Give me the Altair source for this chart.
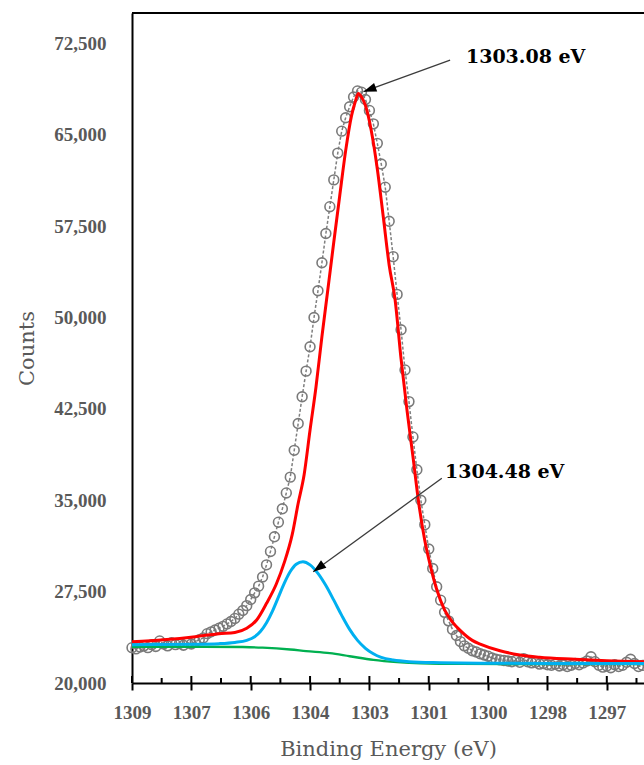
import math
import altair as alt
import pandas as pd

# ---- measured spectrum: counts on a 0.1 eV grid, high -> low binding energy ----
E_START = 1308.8
E_STEP = 0.1
counts = [
    22900, 22800, 22950, 23050, 22900, 23150, 23000, 23450, 23200, 23050,
    23300, 23150, 23250, 23100, 23300, 23200, 23400, 23550, 23700, 24050,
    24200, 24350, 24500, 24650, 24850, 25050, 25300, 25650, 25950, 26350,
    26850, 27400, 27950, 28700, 29700, 30800, 32000, 33200, 34300, 35600,
    36900, 39100, 41300, 43500, 45600, 47600, 50000, 52200, 54500, 56900,
    59100, 61300, 63500, 65300, 66400, 67300, 68100, 68600, 68500, 67900,
    67000, 65900, 64300, 62600, 60700, 57900, 55000, 51900, 49000, 45700,
    43100, 40200, 37500, 35000, 33000, 31000, 29400, 27900, 26800, 25800,
    25100, 24400, 23900, 23400, 23050, 22850, 22650, 22550, 22400, 22300,
    22200, 22050, 21950, 21900, 21850, 21800, 21750, 21850, 21700, 22000,
    21750, 21650, 21700, 21550, 21600, 21500, 21450, 21550, 21400, 21500,
    21350, 21450, 21600, 21500, 21650, 21800, 22150, 21750, 21450, 21300,
    21400, 21250, 21500, 21350, 21450, 21700, 21950, 21600, 21350, 21450,
]
energy = [round(E_START - E_STEP * i, 1) for i in range(len(counts))]

# ---- fitted main component (1303.08 eV) ----
red_e = [1308.8, 1308.0, 1307.2, 1306.6, 1306.2, 1305.9, 1305.65, 1305.4, 1305.15,
         1304.95, 1304.75, 1304.6, 1304.45, 1304.3, 1304.15, 1304.0, 1303.85, 1303.7,
         1303.55, 1303.4, 1303.25, 1303.15, 1303.08, 1303.0, 1302.9, 1302.75, 1302.6,
         1302.45, 1302.3, 1302.15, 1302.0, 1301.85, 1301.7, 1301.55, 1301.4, 1301.25,
         1301.1, 1300.9, 1300.7, 1300.5, 1300.2, 1300.0, 1299.5, 1299.0, 1298.5,
         1297.6, 1296.8, 1295.86]
red_v = [23390, 23550, 23800, 24050, 24150, 24490, 25170, 26540, 28150,
         29900, 32200, 34750, 37100, 40770, 44300, 48430, 52300, 56200,
         60000, 63700, 66600, 67800, 68400, 68100, 67400, 65300, 62200,
         58280, 54300, 51440, 46600, 42400, 38600, 34700, 31700, 29500,
         27700, 26000, 25000, 24300, 23500, 23200, 22650, 22300, 22110,
         21950, 21830, 21750]

# ---- fitted second component (1304.48 eV) ----
blue_e = [1308.8, 1307.2, 1306.6, 1306.2, 1305.9, 1305.7, 1305.55, 1305.4, 1305.25,
          1305.1, 1304.95, 1304.8, 1304.65, 1304.48, 1304.3, 1304.1, 1303.9, 1303.7,
          1303.5, 1303.3, 1303.1, 1302.9, 1302.7, 1302.5, 1302.2, 1301.8, 1301.0,
          1300.0, 1298.0, 1295.86]
blue_v = [23150, 23180, 23230, 23330, 23500, 23800, 24250, 24950, 25900,
          27050, 28200, 29150, 29750, 29960, 29700, 29000, 28000, 26800,
          25550, 24400, 23500, 22850, 22400, 22100, 21880, 21750, 21670,
          21620, 21600, 21600]

# ---- background ----
green_e = [1308.8, 1307.0, 1306.0, 1305.5, 1304.8, 1304.4, 1303.8, 1303.3, 1302.7,
           1302.1, 1301.5, 1300.5, 1298.0, 1295.86]
green_v = [22980, 22980, 22950, 22900, 22750, 22620, 22450, 22200, 21900,
           21720, 21620, 21570, 21560, 21560]

# ---- peak annotations ----
peak_labels = ["1303.08 eV", "1304.48 eV"]
label_e = [1300.36, 1300.89]
label_v = [71400, 37320]
tail_e = [1300.76, 1300.97]
tail_v = [71140, 36800]
tip_e = [1302.95, 1304.22]
tip_v = [68540, 29140]

# ---- axes ----
x_major = [1308.8, 1307.3, 1305.8, 1304.3, 1302.8, 1301.3, 1299.8, 1298.3, 1296.8]
x_minor = [1308.05, 1306.55, 1305.05, 1303.55, 1302.05, 1300.55, 1299.05, 1297.55, 1296.05]
y_ticks = [20000, 27500, 35000, 42500, 50000, 57500, 65000, 72500]
X_DOMAIN = [1295.86, 1308.8]
Y_DOMAIN = [20000, 75000]

W, H = 512, 670
FONT = "DejaVu Serif"
TICK_FONT = "Liberation Serif"
GREY_TXT = "#595959"

# arrowhead orientation from the on-screen direction of each arrow
px_per_ev = W / (X_DOMAIN[1] - X_DOMAIN[0])
px_per_count = H / (Y_DOMAIN[1] - Y_DOMAIN[0])
angles = []
for te, tv, he, hv in zip(tail_e, tail_v, tip_e, tip_v):
    dx = (te - he) * px_per_ev
    dy = (tv - hv) * px_per_count
    angles.append(math.degrees(math.atan2(dx, -dy)) % 360)

spec_df = pd.DataFrame({"E": energy, "counts": counts})
red_df = pd.DataFrame({"E": red_e, "counts": red_v})
blue_df = pd.DataFrame({"E": blue_e, "counts": blue_v})
green_df = pd.DataFrame({"E": green_e, "counts": green_v})
ann_df = pd.DataFrame({
    "label": peak_labels, "lx": label_e, "ly": label_v,
    "tx": tail_e, "ty": tail_v, "hx": tip_e, "hy": tip_v, "ang": angles,
})
major_df = pd.DataFrame({"E": x_major})
minor_df = pd.DataFrame({"E": x_minor})

x_scale = alt.Scale(domain=X_DOMAIN, reverse=True, nice=False, zero=False)
y_scale = alt.Scale(domain=Y_DOMAIN, nice=False, zero=False)

x_axis = alt.Axis(
    values=x_major, format=".0f", title="Binding Energy (eV)", grid=False,
    domainColor="black", domainWidth=2, ticks=True, tickSize=7, tickWidth=2,
    tickColor="black", labelFont=TICK_FONT, labelFontSize=19, labelFontWeight="bold",
    labelColor=GREY_TXT, labelPadding=13, labelOverlap=False, labelFlush=False,
    titleFont=FONT, titleFontSize=21, titleFontWeight="normal", titleColor=GREY_TXT,
    titlePadding=16,
)
y_axis = alt.Axis(
    values=y_ticks, format=",d", title="Counts", grid=False,
    domainColor="black", domainWidth=2, ticks=False, labelFont=TICK_FONT,
    labelFontSize=19, labelFontWeight="bold", labelColor=GREY_TXT, labelPadding=26,
    titleFont=FONT, titleFontSize=21, titleFontWeight="normal", titleColor=GREY_TXT,
    titlePadding=16,
)

X = alt.X("E:Q", scale=x_scale, axis=x_axis)
Y = alt.Y("counts:Q", scale=y_scale, axis=y_axis)

spec_line = alt.Chart(spec_df).mark_line(
    color="#7f7f7f", strokeWidth=1.5, strokeDash=[3, 2]
).encode(x=X, y=Y)
spec_pts = alt.Chart(spec_df).mark_point(
    shape="circle", filled=False, color="#7a7a7a", size=96, strokeWidth=1.6, opacity=1
).encode(x=X, y=Y)
red_line = alt.Chart(red_df).mark_line(
    color="#ff0000", strokeWidth=3, interpolate="monotone"
).encode(x=X, y=Y)
green_line = alt.Chart(green_df).mark_line(
    color="#00b050", strokeWidth=2.4, interpolate="monotone"
).encode(x=X, y=Y)
blue_line = alt.Chart(blue_df).mark_line(
    color="#00b0f0", strokeWidth=3, interpolate="monotone"
).encode(x=X, y=Y)

arrow_lines = alt.Chart(ann_df).mark_rule(color="#3c3c3c", strokeWidth=1.3).encode(
    x=alt.X("tx:Q", scale=x_scale, axis=x_axis),
    y=alt.Y("ty:Q", scale=y_scale, axis=y_axis),
    x2="hx:Q", y2="hy:Q",
)
arrow_heads = alt.Chart(ann_df).mark_point(
    shape="M0,0 L0.65,1.85 L-0.65,1.85 Z", filled=True, color="black",
    size=196, opacity=1, strokeWidth=0,
).encode(
    x=alt.X("hx:Q", scale=x_scale, axis=x_axis),
    y=alt.Y("hy:Q", scale=y_scale, axis=y_axis),
    angle=alt.Angle("ang:Q", scale=None),
)
labels = alt.Chart(ann_df).mark_text(
    font=FONT, fontSize=19, fontWeight="bold", color="black",
    align="left", baseline="middle",
).encode(
    x=alt.X("lx:Q", scale=x_scale, axis=x_axis),
    y=alt.Y("ly:Q", scale=y_scale, axis=y_axis),
    text="label:N",
)

# tick marks that cross the bottom axis line, plus short inner minor ticks
major_in = alt.Chart(major_df).mark_rule(color="black", strokeWidth=2).encode(
    x=alt.X("E:Q", scale=x_scale, axis=x_axis), y=alt.value(H - 7), y2=alt.value(H)
)
minor_in = alt.Chart(minor_df).mark_rule(color="black", strokeWidth=2).encode(
    x=alt.X("E:Q", scale=x_scale, axis=x_axis), y=alt.value(H - 5), y2=alt.value(H)
)
top_frame = alt.Chart(major_df).mark_rule(color="black", strokeWidth=2).encode(
    x=alt.value(0), x2=alt.value(W), y=alt.value(0)
)

chart = alt.layer(
    spec_line, spec_pts, red_line, green_line, blue_line,
    arrow_lines, arrow_heads, labels, major_in, minor_in, top_frame,
).properties(
    width=W, height=H,
    autosize=alt.AutoSizeParams(type="none"),
    padding={"left": 132, "top": 13, "right": 0, "bottom": 82},
    background="white",
).configure_view(stroke=None)

chart.save("out.html", embed_options={"renderer": "svg", "actions": False})
